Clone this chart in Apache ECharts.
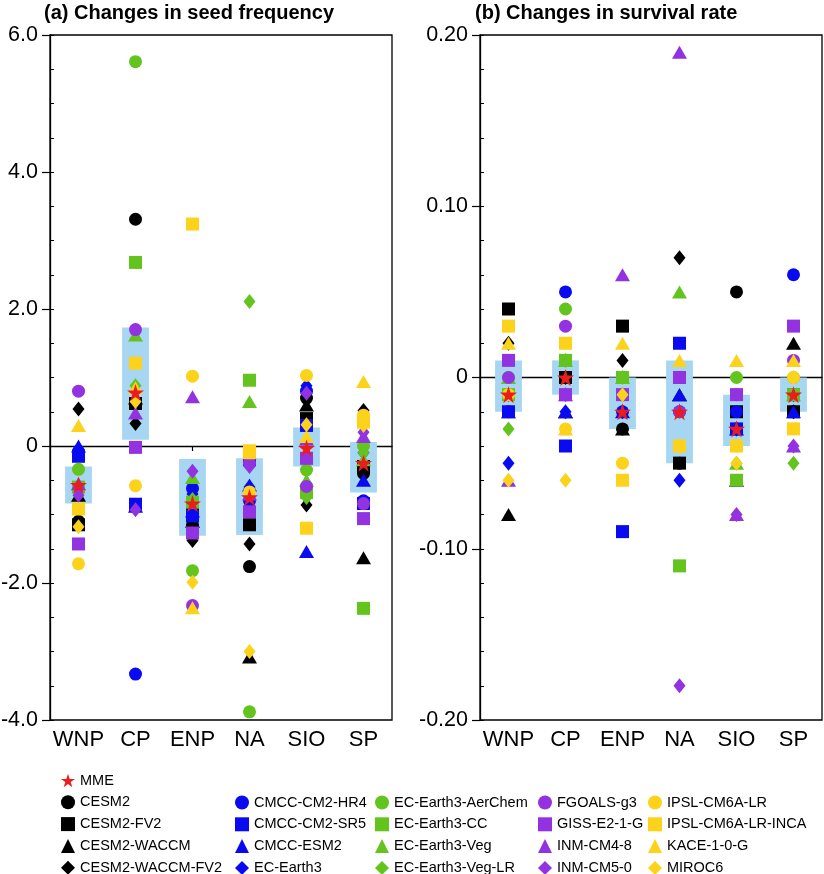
<!DOCTYPE html>
<html><head><meta charset="utf-8">
<script src="https://cdn.jsdelivr.net/npm/echarts@6/dist/echarts.min.js"></script>
<style>html,body{margin:0;padding:0;background:#fff}#c{width:824px;height:874px}</style>
</head><body><div id="c"></div>
<script>
// ---------- DATA ----------
const regions = ['WNP','CP','ENP','NA','SIO','SP'];
const models = ['CESM2','CESM2-FV2','CESM2-WACCM','CESM2-WACCM-FV2',
  'CMCC-CM2-HR4','CMCC-CM2-SR5','CMCC-ESM2','EC-Earth3',
  'EC-Earth3-AerChem','EC-Earth3-CC','EC-Earth3-Veg','EC-Earth3-Veg-LR',
  'FGOALS-g3','GISS-E2-1-G','INM-CM4-8','INM-CM5-0',
  'IPSL-CM6A-LR','IPSL-CM6A-LR-INCA','KACE-1-0-G','MIROC6'];

// (a) Changes in seed frequency, one array per region, in model order
const seedWNP = [-1.10,-1.15,-0.72,0.54,-0.08,-0.15,0.00,-0.05,-0.34,-0.60,-0.55,-0.60,0.80,-1.43,-0.55,-0.72,-1.72,-0.92,0.30,-1.18];
const seedCP  = [3.31,0.62,0.70,0.33,-3.33,-0.85,-0.88,-0.88,5.61,2.68,1.62,0.88,1.70,-0.02,0.48,-0.93,-0.58,1.21,0.85,0.65];
const seedENP = [-1.15,-0.90,-1.10,-1.38,-0.62,-1.02,-0.95,-0.70,-1.82,-0.82,-0.46,-0.78,-2.33,-1.27,0.72,-0.37,1.02,3.24,-2.36,-1.99];
const seedNA  = [-1.76,-1.15,-3.08,-1.43,-0.80,-0.20,-0.57,-0.60,-3.88,0.96,0.65,2.11,-0.25,-0.96,-0.70,-0.30,-0.67,-0.07,-0.10,-3.00];
const seedSIO = [0.70,0.40,0.60,-0.86,0.80,0.30,-1.54,0.88,-0.35,-0.68,-0.50,-0.75,-0.59,-0.18,0.10,0.77,1.03,-1.20,0.14,0.31];
const seedSP  = [-0.40,-0.30,-1.63,0.52,-0.80,-0.84,-0.50,-0.10,0.00,-2.37,-0.20,-0.10,-0.84,-1.06,0.14,0.20,0.45,0.35,0.94,0.30];
const seedMME  = [-0.57,0.78,-0.84,-0.75,-0.03,-0.25];
const seedBoxLo = [-0.84,0.09,-1.31,-1.30,-0.30,-0.68];
const seedBoxHi = [-0.30,1.73,-0.19,-0.18,0.27,0.06];
const seedTickValues = [-4,-2,0,2,4,6];
const seedTickLabels = ['-4.0','-2.0','0','2.0','4.0','6.0'];

// (b) Changes in survival rate
const survWNP = [-0.01,0.04,-0.08,0.02,-0.02,-0.02,-0.02,-0.05,0.00,-0.01,0.00,-0.03,0.00,0.01,-0.06,-0.01,-0.01,0.03,0.02,-0.06];
const survCP  = [0.00,0.00,-0.02,0.00,0.05,-0.04,-0.02,-0.02,0.04,0.01,0.01,0.01,0.03,-0.01,-0.01,-0.01,-0.03,0.02,-0.03,-0.06];
const survENP = [-0.03,0.03,-0.03,0.01,-0.02,-0.09,-0.02,-0.02,0.00,0.00,0.00,0.00,-0.01,-0.01,0.06,-0.01,-0.05,-0.06,0.02,-0.01];
const survNA  = [-0.05,-0.05,-0.01,0.07,-0.02,0.02,-0.01,-0.06,0.00,-0.11,0.05,-0.02,-0.02,0.00,0.19,-0.18,-0.04,-0.04,0.01,-0.04];
const survSIO = [0.05,-0.02,-0.06,-0.03,-0.02,-0.03,-0.03,-0.03,0.00,-0.06,-0.05,-0.05,-0.01,-0.01,-0.08,-0.08,-0.04,-0.04,0.01,-0.05];
const survSP  = [-0.02,-0.02,0.02,-0.02,0.06,-0.01,-0.02,-0.01,0.00,-0.01,-0.01,-0.05,0.01,0.03,-0.04,-0.04,0.00,-0.03,0.01,0.00];
const survMME  = [-0.01,0.00,-0.02,-0.02,-0.03,-0.01];
const survBoxLo = [-0.02,-0.01,-0.03,-0.05,-0.04,-0.02];
const survBoxHi = [0.01,0.01,0.00,0.01,-0.01,0.00];
const survTickValues = [-0.2,-0.1,0,0.1,0.2];
const survTickLabels = ['-0.20','-0.10','0','0.10','0.20'];

// ---------- STYLE ----------
const FONT = 'Liberation Sans, Arial, Helvetica, sans-serif';
const C = {black:'#000000', blue:'#0a0af0', green:'#63c41e', purple:'#9232e0', yellow:'#fdd21a'};
const groupColors = [C.black, C.blue, C.green, C.purple, C.yellow];
const shapes = ['circle','rect','triangle','diamond'];
const shapeSize = {circle:13, rect:13, triangle:[15,13], diamond:[12,15]};
const STAR = 'path://M50,0 L61.2,34.5 L97.6,34.5 L68.2,55.9 L79.4,90.5 L50,69.1 L20.6,90.5 L31.8,55.9 L2.4,34.5 L38.8,34.5 Z';

const seedRegions = [seedWNP, seedCP, seedENP, seedNA, seedSIO, seedSP];
const survRegions = [survWNP, survCP, survENP, survNA, survSIO, survSP];

function labelFor(values, labels){
  return v => { for (let i=0;i<values.length;i++) if (Math.abs(values[i]-v)<1e-9) return labels[i]; return ''; };
}

function makeAxes(g, min, max, interval, minorInterval, tv, tl, margin){
  return [
    {gridIndex:g, type:'value', min:min, max:max, interval:interval,
     axisLine:{show:true, lineStyle:{color:'#000', width:1.3}},
     axisTick:{show:true, inside:false, length:8, lineStyle:{color:'#000', width:1.2}},
     axisLabel:{show:true, formatter:labelFor(tv, tl), fontSize:21.5, color:'#000', fontFamily:FONT, margin:margin},
     splitLine:{show:false}},
    {gridIndex:g, type:'value', min:min, max:max, interval:minorInterval, position:'left',
     axisLine:{show:false},
     axisTick:{show:true, inside:true, length:4, lineStyle:{color:'#000', width:1}},
     axisLabel:{show:false}, splitLine:{show:false}}
  ];
}

function xAxisFor(g){
  return {gridIndex:g, type:'category', data:regions, boundaryGap:true,
    axisLine:{show:true, lineStyle:{color:'#000', width:1.3}},
    axisTick:{show:true, alignWithLabel:true, length:5, lineStyle:{color:'#000', width:1.2}},
    axisLabel:{fontSize:22, color:'#000', fontFamily:FONT, margin:9, interval:0},
    splitLine:{show:false}};
}

function boxSeries(g, lo, hi){
  return {type:'custom', xAxisIndex:g, yAxisIndex:g*2, z:1, silent:true,
    data: regions.map((r,i)=>[i, lo[i], hi[i]]),
    renderItem:(params, api)=>{
      const p1 = api.coord([api.value(0), api.value(1)]);
      const p2 = api.coord([api.value(0), api.value(2)]);
      const w = api.size([1,0])[0]*0.47;
      return {type:'rect', shape:{x:p1[0]-w/2, y:p2[1], width:w, height:p1[1]-p2[1]}, style:{fill:'#a7d6f3'}};
    },
    markLine:{silent:true, symbol:'none', label:{show:false}, z:0,
      lineStyle:{color:'#9a9a9a', width:1.2, type:'solid'}, data:[{yAxis:0}]}
  };
}

const series = [];
[0,1].forEach(g=>{
  series.push(boxSeries(g, g===0?seedBoxLo:survBoxLo, g===0?seedBoxHi:survBoxHi));
});
[0,1].forEach(g=>{
  const src = g===0 ? seedRegions : survRegions;
  models.forEach((m, k)=>{
    const shape = shapes[k%4];
    series.push({type:'scatter', name:m, xAxisIndex:g, yAxisIndex:g*2, z:3,
      symbol:shape, symbolSize:shapeSize[shape],
      itemStyle:{color:groupColors[Math.floor(k/4)], opacity:1},
      emphasis:{disabled:true},
      data: regions.map((r,i)=>[i, src[i][k]])});
  });
  series.push({type:'scatter', name:'MME', xAxisIndex:g, yAxisIndex:g*2, z:4,
    symbol:STAR, symbolSize:17, itemStyle:{color:'#ea1c1c', opacity:1},
    emphasis:{disabled:true},
    data: regions.map((r,i)=>[i, (g===0?seedMME:survMME)[i]])});
});

function legendCol(left, top, names){
  return {orient:'vertical', left:left, top:top, height:140, width:200, data:names,
    itemWidth:14, itemHeight:14, itemGap:6.8, padding:0, selectedMode:false,
    textStyle:{fontSize:14.5, lineHeight:14, color:'#000', fontFamily:FONT}};
}

const gridBase = {top:35, width:342, height:685, show:true, borderColor:'#000', borderWidth:1.3,
  backgroundColor:'transparent', containLabel:false, outerBoundsMode:'none'};

const option = {
  animation:false,
  backgroundColor:'#fff',
  title:[
    {text:'(a) Changes in seed frequency', left:44, top:3, padding:0,
     textStyle:{fontSize:20, fontWeight:'bold', color:'#000', fontFamily:FONT}},
    {text:'(b) Changes in survival rate', left:475, top:3, padding:0,
     textStyle:{fontSize:20, fontWeight:'bold', color:'#000', fontFamily:FONT}}
  ],
  grid:[
    Object.assign({left:50}, gridBase),
    Object.assign({left:480}, gridBase)
  ],
  xAxis:[xAxisFor(0), xAxisFor(1)],
  yAxis:[...makeAxes(0,-4,6,2,0.5,seedTickValues,seedTickLabels,12),
         ...makeAxes(1,-0.2,0.2,0.1,0.02,survTickValues,survTickLabels,12)],
  legend:[
    legendCol(61, 773, ['MME', models[0], models[1], models[2], models[3]]),
    legendCol(235, 795, models.slice(4,8)),
    legendCol(375, 795, models.slice(8,12)),
    legendCol(538, 795, models.slice(12,16)),
    legendCol(648, 795, models.slice(16,20))
  ],
  series: series
};
const chart = echarts.init(document.getElementById('c'), null, {renderer:'canvas'});
chart.setOption(option);
</script></body></html>
